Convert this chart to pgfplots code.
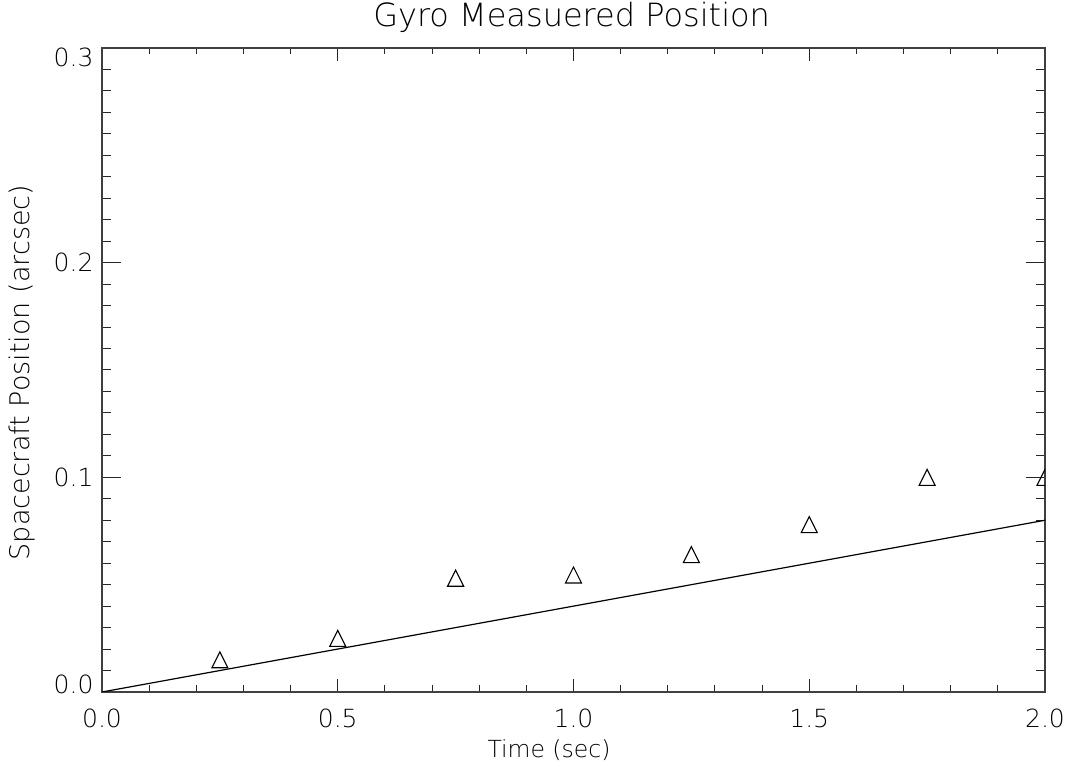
\documentclass[border=0pt]{standalone}
\usepackage{fontspec}
\setmainfont{DejaVu Sans}[UprightFont={* ExtraLight}]
\usepackage{pgfplots}
\pgfplotsset{compat=1.18}
\pgfdeclareplotmark{idltri}{%
  \pgfpathmoveto{\pgfqpoint{-\pgfplotmarksize}{-\pgfplotmarksize}}%
  \pgfpathlineto{\pgfqpoint{0pt}{\pgfplotmarksize}}%
  \pgfpathlineto{\pgfqpoint{\pgfplotmarksize}{-\pgfplotmarksize}}%
  \pgfpathclose\pgfusepathqstroke}
\begin{document}
\begin{tikzpicture}
\begin{axis}[
  name=ax,
  scale only axis,
  width=943pt, height=644pt,
  xmin=0, xmax=2, ymin=0, ymax=0.3,
  xtick={0,0.5,1,1.5,2},
  ytick={0,0.1,0.2,0.3},
  minor x tick num=4,
  minor y tick num=9,
  tick align=inside,
  tick pos=both,
  axis line style={black!75, line width=1.3pt},
  every tick/.style={black!85, line width=1pt},
  x tick style={/pgfplots/major tick length=13pt, /pgfplots/minor tick length=6.5pt},
  y tick style={/pgfplots/major tick length=19pt, /pgfplots/minor tick length=9.5pt},
  /pgf/number format/assume math mode=true,
  /pgf/number format/.cd, fixed, fixed zerofill, precision=1, /pgfplots/.cd,
  scaled y ticks=false,
  xticklabel style={font=\fontsize{25}{25}\selectfont, yshift=-13.5pt},
  yticklabel style={font=\fontsize{25}{25}\selectfont, xshift=-5pt, yshift={8*(\ticknum==0)-9*(\ticknum==3)}},
  title={Gyro Measuered Position},
  title style={font=\fontsize{32}{32}\selectfont, at={(0.498,1)}, anchor=base, yshift=15pt},
  xlabel={Time (sec)},
  xlabel style={font=\fontsize{23.5}{23.5}\selectfont, at={(0.474,0)}, anchor=base, yshift=-66pt},
  ylabel={Spacecraft Position (arcsec)},
  ylabel style={font=\fontsize{27}{27}\selectfont, at={(-0.0764,0.496)}, anchor=base},
  clip marker paths=true,
]
\addplot[black, line width=1.2pt] coordinates {(0,0) (2,0.08)};
\addplot[only marks, mark=idltri, mark size=8pt, mark options={black, line width=1.1pt}] coordinates {
  (0.25,0.015) (0.5,0.025) (0.75,0.053) (1.0,0.0545) (1.25,0.064) (1.5,0.078) (1.75,0.100) (2.0,0.100)
};
\end{axis}
\pgfresetboundingbox
\path[use as bounding box] ([shift={(-102pt,-82pt)}]ax.south west) rectangle ([shift={(33pt,48pt)}]ax.north east);
\end{tikzpicture}
\end{document}
